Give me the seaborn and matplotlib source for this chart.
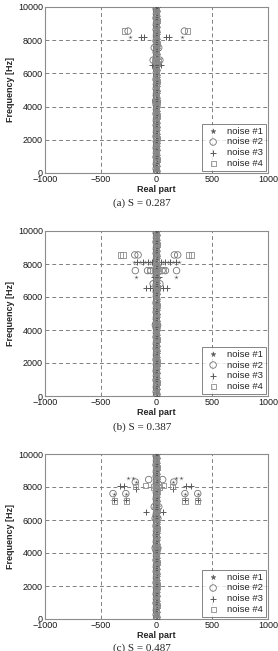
import numpy as np
import pandas as pd
import matplotlib
matplotlib.use("Agg")
import matplotlib.pyplot as plt
import seaborn as sns

sns.set_style("white")
plt.rcParams['font.family'] = ['Liberation Sans', 'DejaVu Sans']

# ---- data ----
noise_labels = ["noise #1", "noise #2", "noise #3", "noise #4"]
captions = ["(a) S = 0.287", "(b) S = 0.387", "(c) S = 0.487"]

# dense column of (near-)real-axis poles shared by all noises
column_freqs = [0, 120, 260, 410, 530, 690, 820, 960, 1100, 1230, 1380, 1510, 1650,
                1790, 1920, 2060, 2200, 2340, 2470, 2610, 2750, 2880, 3020, 3160,
                3300, 3430, 3570, 3710, 3840, 3980, 4120, 4260, 4390, 4530, 4670,
                4800, 4940, 5080, 5220, 5350, 5490, 5630, 5760, 5900, 6040, 6180,
                6310, 6450, 6590, 6720, 6860, 7000, 7140, 7270, 7410, 7550, 7680,
                7820, 7960, 8100, 8230, 8370, 8510, 8640, 8780, 8920, 9060, 9190,
                9330, 9470, 9600, 9740, 9880, 10000]
column_real = [0, 3, -3, 2, -2, 0, 4, -4, 1, -1, 3, -3, 0, 2, -2, 4, -4, 1, -1, 0,
               3, -3, 2, -2, 0, 4, -4, 1, -1, 3, -3, 5, -5, 2, -2, 0, 3, -3, 1, -1,
               4, -4, 0, 2, -2, 3, -3, 0, 4, -4, 1, -1, 3, -3, 0, 2, -2, 4, -4, 1,
               -1, 0, 3, -3, 2, -2, 0, 4, -4, 1, -1, 3, -3, 0]

# off-axis poles, per panel and per noise: (real parts, frequencies)
a_n1_re = [-235, 230, -8, 8]
a_n1_f = [8200, 8200, 6600, 6600]
a_n2_re = [-255, 250, -20, 20, -30, 30, -8, 8]
a_n2_f = [8550, 8550, 7550, 7550, 6800, 6800, 4300, 4300]
a_n3_re = [-140, -115, 85, 110, -40, -20, 20, 40]
a_n3_f = [8170, 8170, 8170, 8170, 6500, 6500, 6500, 6500]
a_n4_re = [-285, 275, -15, 15]
a_n4_f = [8550, 8550, 6800, 6800]

b_n1_re = [-205, -150, -100, -60, 60, 100, 150, 205, -180, 175, -15, 15]
b_n1_f = [8130, 8130, 8100, 8100, 8100, 8100, 8130, 8130, 7200, 7200, 6500, 6500]
b_n2_re = [-195, -165, 160, 190, -190, 180, -80, -50, 50, 80, -30, 30, -10, 10]
b_n2_f = [8550, 8550, 8550, 8550, 7600, 7600, 7600, 7600, 7600, 7600, 6800, 6800, 4300, 4300]
b_n3_re = [-175, -125, -80, -40, 40, 80, 125, 175, -95, -60, -30, 30, 60, 95, -20, 20]
b_n3_f = [8100, 8100, 8100, 8100, 8100, 8100, 8100, 8100, 6550, 6550, 6550, 6550, 6550, 6550, 7200, 7200]
b_n4_re = [-325, -300, 290, 315, -60, 60]
b_n4_f = [8550, 8550, 8550, 8550, 7600, 7600]

c_n1_re = [-255, -215, 175, 220, -185, 150, -385, -270, 255, 370]
c_n1_f = [8550, 8550, 8550, 8550, 8300, 8300, 7550, 7550, 7550, 7550]
c_n2_re = [-190, 155, -70, 55, -390, -275, 255, 370, -20, 20, -12, 12, -12, 12]
c_n2_f = [8300, 8300, 8450, 8450, 7600, 7600, 7600, 7600, 6800, 6800, 6100, 6100, 4300, 4300]
c_n3_re = [-330, -290, 265, 305, -185, 145, -90, 55, -380, -270, 255, 370]
c_n3_f = [8050, 8050, 8050, 8050, 7900, 7900, 6500, 6500, 7200, 7200, 7200, 7200]
c_n4_re = [-100, 65, -185, 145, -380, -270, 255, 370, -30, 30]
c_n4_f = [8100, 8100, 8050, 8050, 7150, 7150, 7150, 7150, 8000, 8000]

panels = [
    [(a_n1_re, a_n1_f), (a_n2_re, a_n2_f), (a_n3_re, a_n3_f), (a_n4_re, a_n4_f)],
    [(b_n1_re, b_n1_f), (b_n2_re, b_n2_f), (b_n3_re, b_n3_f), (b_n4_re, b_n4_f)],
    [(c_n1_re, c_n1_f), (c_n2_re, c_n2_f), (c_n3_re, c_n3_f), (c_n4_re, c_n4_f)],
]

x_ticks = [-1000, -500, 0, 500, 1000]
y_ticks = [0, 2000, 4000, 6000, 8000, 10000]

# ---- styles ----
styles = [
    dict(marker="*", s=14, color="0.35", linewidths=0.3),
    dict(marker="o", s=22, facecolor="none", edgecolor="0.45", linewidths=0.6),
    dict(marker="+", s=22, color="0.35", linewidths=0.7),
    dict(marker="s", s=14, facecolor="none", edgecolor="0.55", linewidths=0.6),
]

W, H = 278, 651
fig = plt.figure(figsize=(W / 100, H / 100), dpi=100)
axes_px = [(7, 173), (231, 396), (454, 619)]
left, right = 45, 268
cap_y = [203, 427, 648]

for i, (top, bot) in enumerate(axes_px):
    ax = fig.add_axes([left / W, 1 - bot / H, (right - left) / W, (bot - top) / H])
    handles = []
    for k, (re_off, f_off) in enumerate(panels[i]):
        df = pd.DataFrame({
            "re": list(column_real) + list(re_off),
            "f": list(column_freqs) + list(f_off),
        })
        sns.scatterplot(data=df, x="re", y="f", ax=ax, legend=False, zorder=3, **styles[k])
        h = ax.scatter([], [], label=noise_labels[k], **styles[k])
        handles.append(h)
    ax.set_xlim(-1000, 1000)
    ax.set_ylim(0, 10000)
    ax.set_xticks(x_ticks)
    ax.set_yticks(y_ticks)
    ax.tick_params(labelsize=6.5, length=2, direction="in", color="0.5", pad=1.5,
                   labelcolor="0.1")
    ax.grid(True, color="0.5", linestyle=(0, (4, 3)), linewidth=0.7)
    ax.set_axisbelow(True)
    for sp in ax.spines.values():
        sp.set_color("0.55")
        sp.set_linewidth(0.8)
    ax.set_xlabel("Real part", fontsize=6.5, fontweight="bold", labelpad=1)
    ax.set_ylabel("Frequency [Hz]", fontsize=6.5, fontweight="bold", labelpad=2)
    leg = ax.legend(handles=handles, loc="lower right", fontsize=6.8, frameon=True,
                    fancybox=False, borderpad=0.25, labelspacing=0.2,
                    handletextpad=0.6, borderaxespad=0.25, handlelength=1.8)
    leg.get_frame().set_edgecolor("0.3")
    leg.get_frame().set_linewidth(0.6)
    fig.text(142 / W, 1 - cap_y[i] / H, captions[i],
             ha="center", va="center", fontsize=8, family="Liberation Serif")

fig.savefig("out.png", dpi=100)
